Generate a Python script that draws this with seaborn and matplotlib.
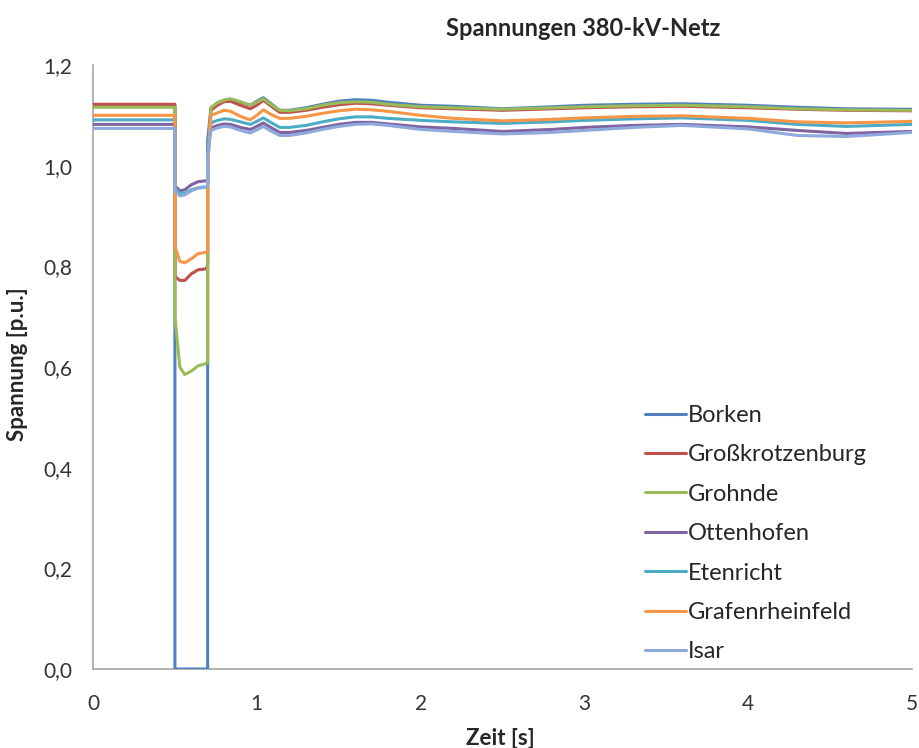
import pandas as pd
import numpy as np
import matplotlib
matplotlib.use("Agg")
import matplotlib.pyplot as plt
from matplotlib.ticker import FuncFormatter
import seaborn as sns

# === Data ===
zeit = [0.0, 0.5, 0.5, 0.53, 0.56, 0.6, 0.64, 0.69, 0.7, 0.7,
        0.72, 0.76, 0.8, 0.84, 0.9, 0.96, 1.0, 1.04, 1.08, 1.14,
        1.2, 1.3, 1.4, 1.5, 1.6, 1.7, 1.8, 2.0, 2.2, 2.5,
        2.8, 3.0, 3.3, 3.6, 4.0, 4.3, 4.6, 5.0]

borken = [1.118, 1.118, 0, 0, 0, 0, 0, 0, 0, 1.05,
          1.115, 1.125, 1.13, 1.132, 1.126, 1.12, 1.128, 1.135, 1.125, 1.11,
          1.11, 1.115, 1.122, 1.128, 1.131, 1.13, 1.126, 1.12, 1.118, 1.113,
          1.117, 1.12, 1.122, 1.123, 1.12, 1.116, 1.113, 1.112]
grosskrotzenburg = [1.122, 1.122, 0.78, 0.772, 0.772, 0.785, 0.793, 0.795, 0.80, 1.0,
                    1.11, 1.12, 1.127, 1.128, 1.12, 1.113, 1.12, 1.13, 1.12, 1.106,
                    1.106, 1.11, 1.116, 1.121, 1.124, 1.123, 1.12, 1.115, 1.113, 1.11,
                    1.113, 1.115, 1.117, 1.118, 1.115, 1.112, 1.11, 1.109]
grohnde = [1.116, 1.116, 0.70, 0.60, 0.585, 0.592, 0.602, 0.607, 0.61, 1.0,
           1.115, 1.125, 1.13, 1.133, 1.127, 1.12, 1.126, 1.133, 1.123, 1.11,
           1.109, 1.113, 1.12, 1.125, 1.127, 1.126, 1.122, 1.117, 1.115, 1.112,
           1.115, 1.117, 1.119, 1.12, 1.117, 1.113, 1.111, 1.11]
ottenhofen = [1.082, 1.082, 0.96, 0.95, 0.952, 0.962, 0.968, 0.97, 0.97, 1.03,
              1.075, 1.08, 1.083, 1.082, 1.076, 1.072, 1.078, 1.085, 1.077, 1.066,
              1.066, 1.07, 1.076, 1.082, 1.086, 1.086, 1.083, 1.077, 1.074, 1.068,
              1.072, 1.076, 1.08, 1.082, 1.077, 1.07, 1.064, 1.068]
etenricht = [1.091, 1.091, 0.955, 0.945, 0.945, 0.952, 0.956, 0.958, 0.96, 1.03,
             1.085, 1.09, 1.093, 1.092, 1.087, 1.082, 1.088, 1.095, 1.087, 1.076,
             1.076, 1.08, 1.087, 1.093, 1.097, 1.097, 1.094, 1.09, 1.087, 1.084,
             1.087, 1.09, 1.093, 1.095, 1.09, 1.082, 1.078, 1.082]
grafenrheinfeld = [1.100, 1.100, 0.84, 0.81, 0.807, 0.815, 0.825, 0.828, 0.83, 1.0,
                   1.1, 1.105, 1.11, 1.108, 1.098, 1.091, 1.1, 1.111, 1.103, 1.094,
                   1.094, 1.098, 1.104, 1.109, 1.112, 1.111, 1.108, 1.1, 1.094, 1.089,
                   1.092, 1.095, 1.098, 1.099, 1.094, 1.087, 1.085, 1.088]
isar = [1.074, 1.074, 0.95, 0.94, 0.942, 0.95, 0.955, 0.957, 0.96, 1.02,
        1.07, 1.075, 1.078, 1.077, 1.07, 1.065, 1.071, 1.078, 1.07, 1.06,
        1.06, 1.065, 1.072, 1.078, 1.082, 1.083, 1.08, 1.072, 1.068, 1.063,
        1.066, 1.07, 1.076, 1.08, 1.073, 1.06, 1.058, 1.066]

stationen = ["Borken", "Großkrotzenburg", "Grohnde", "Ottenhofen",
             "Etenricht", "Grafenrheinfeld", "Isar"]
farben = ["#4F81BD", "#C0504D", "#9BBB59", "#8064A2",
          "#4BACC6", "#F79646", "#8EA9DB"]
werte = [borken, grosskrotzenburg, grohnde, ottenhofen,
         etenricht, grafenrheinfeld, isar]

# === Long-form table ===
rows = []
for name, vals in zip(stationen, werte):
    for t, v in zip(zeit, vals):
        rows.append({"Zeit": t, "Spannung": v, "Station": name})
df = pd.DataFrame(rows)

# === Plot ===
sns.set_style("white")
plt.rcParams["font.family"] = ["Lato", "DejaVu Sans"]

fig = plt.figure(figsize=(9.19, 7.48), dpi=100)
ax = fig.add_axes([0.1012, 0.1056, 0.8912, 0.8075])

sns.lineplot(data=df, x="Zeit", y="Spannung", hue="Station",
             hue_order=stationen, palette=farben, sort=False,
             estimator=None, linewidth=2.2, ax=ax, zorder=3)

ax.set_xlim(0, 5)
ax.set_ylim(0, 1.2)
ax.set_xticks([0, 1, 2, 3, 4, 5])
ax.set_yticks(np.arange(0, 1.21, 0.2))
ax.yaxis.set_major_formatter(FuncFormatter(lambda v, p: f"{v:.1f}".replace(".", ",")))

for s in ["top", "right"]:
    ax.spines[s].set_visible(False)
for s in ["left", "bottom"]:
    ax.spines[s].set_color("#A6A6A6")
    ax.spines[s].set_linewidth(1.2)
    ax.spines[s].set_zorder(1)
ax.tick_params(axis="both", direction="out", length=6, width=1, color="#A6A6A6",
               labelsize=15, labelcolor="#333333")
ax.tick_params(axis="y", pad=9)
ax.tick_params(axis="x", pad=12)

ax.set_xlabel("Zeit [s]", fontsize=16, fontweight="bold")
ax.set_ylabel("Spannung [p.u.]", fontsize=16, fontweight="bold")
ax.xaxis.set_label_coords(0.497, -0.098)
ax.yaxis.set_label_coords(-0.079, 0.505)
fig.text(0.635, 0.962, "Spannungen 380-kV-Netz", fontsize=17, fontweight="bold",
         ha="center", va="center")

leg = ax.legend(loc="upper left", bbox_to_anchor=(0.662, 0.453), frameon=False,
                fontsize=17, handlelength=1.75, handletextpad=0.08,
                labelspacing=0.78, borderaxespad=0)
for line in leg.get_lines():
    line.set_linewidth(2.2)

fig.savefig("out.png", dpi=100)
